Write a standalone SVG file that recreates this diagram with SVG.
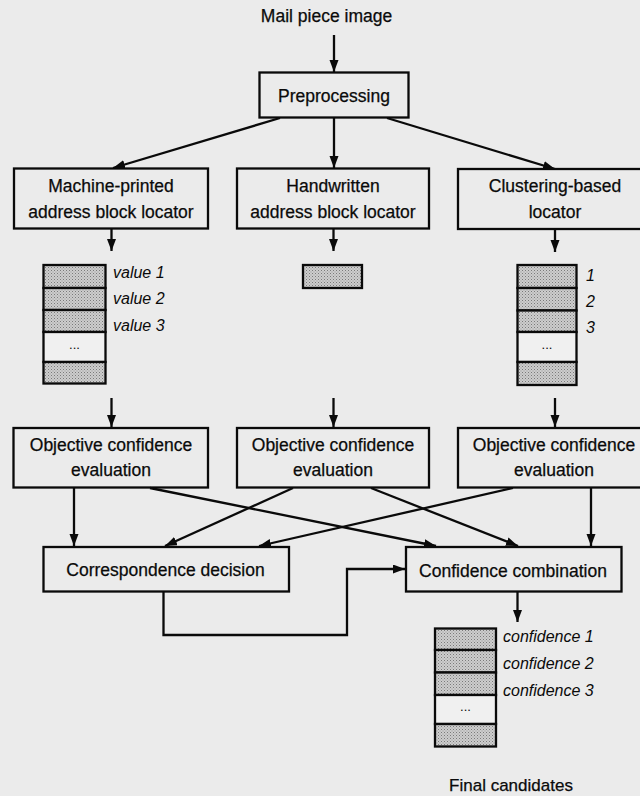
<svg xmlns="http://www.w3.org/2000/svg" width="640" height="796" viewBox="0 0 640 796">
<style>
.box{fill:none;stroke:#0a0a0a;stroke-width:2.3}
.cell{fill:url(#stip);stroke:#0a0a0a;stroke-width:2.3}
.wcell{fill:#f0f0f0;stroke:#0a0a0a;stroke-width:2.3}
.t{font-family:"Liberation Sans",Arial,sans-serif;font-size:17.5px;fill:#0a0a0a;stroke:#0a0a0a;stroke-width:0.25;text-anchor:middle}
.i{font-family:"Liberation Sans",Arial,sans-serif;font-size:16px;font-style:italic;fill:#0a0a0a}
.d{font-family:"Liberation Sans",Arial,sans-serif;font-size:13px;fill:#0a0a0a;text-anchor:middle}
.c{fill:none;stroke:#0a0a0a;stroke-width:2.3}
</style>
<defs>
<pattern id="stip" width="3" height="3" patternUnits="userSpaceOnUse">
<rect width="3" height="3" fill="#cdcdcd"/>
<rect width="1" height="1" fill="#7a7a7a"/>
<rect x="1.5" y="1.5" width="1" height="1" fill="#959595"/>
</pattern>
<marker id="ah" markerUnits="userSpaceOnUse" markerWidth="13" markerHeight="10" refX="12" refY="4.5" orient="auto">
<path d="M0,0 L12,4.5 L0,9 z" fill="#0a0a0a"/>
</marker>
</defs>
<rect width="640" height="796" fill="#ebebeb"/>

<g id="input"><text class="t" x="326.5" y="22">Mail piece image</text></g>

<g id="preprocessing"><rect class="box" x="259.5" y="72.5" width="149" height="45"/><text class="t" x="334" y="102">Preprocessing</text></g>

<g id="mp-locator"><rect class="box" x="14" y="168.5" width="194" height="60"/><text class="t" x="111" y="192">Machine-printed</text><text class="t" x="111" y="217.5">address block locator</text></g>
<g id="hw-locator"><rect class="box" x="237" y="168.5" width="192" height="60"/><text class="t" x="333" y="192">Handwritten</text><text class="t" x="333" y="217.5">address block locator</text></g>
<g id="cl-locator"><rect class="box" x="458" y="169" width="190" height="60"/><text class="t" x="555" y="192">Clustering-based</text><text class="t" x="555" y="217.5">locator</text></g>

<g id="mp-list">
<rect class="cell" x="43.5" y="265" width="62" height="23"/>
<rect class="cell" x="43.5" y="288" width="62" height="22"/>
<rect class="cell" x="43.5" y="310" width="62" height="22"/>
<rect class="wcell" x="43.5" y="332" width="62" height="30"/>
<rect class="cell" x="43.5" y="362" width="62" height="21.5"/>
<text class="d" x="74.5" y="349">...</text>
<text class="i" x="113" y="278">value 1</text>
<text class="i" x="113" y="304">value 2</text>
<text class="i" x="113" y="331">value 3</text>
</g>
<g id="hw-list"><rect class="cell" x="303" y="265" width="59" height="23"/></g>
<g id="cl-list">
<rect class="cell" x="517.5" y="265" width="59" height="23"/>
<rect class="cell" x="517.5" y="288" width="59" height="22.5"/>
<rect class="cell" x="517.5" y="310.5" width="59" height="21.5"/>
<rect class="wcell" x="517.5" y="332" width="59" height="30"/>
<rect class="cell" x="517.5" y="362" width="59" height="23"/>
<text class="d" x="547" y="349">...</text>
<text class="i" x="586" y="281">1</text>
<text class="i" x="586" y="307">2</text>
<text class="i" x="586" y="333">3</text>
</g>

<g id="eval-1"><rect class="box" x="13.5" y="428" width="194.5" height="59.5"/><text class="t" x="111" y="451">Objective confidence</text><text class="t" x="111" y="476">evaluation</text></g>
<g id="eval-2"><rect class="box" x="237" y="428" width="192" height="59.5"/><text class="t" x="333" y="451">Objective confidence</text><text class="t" x="333" y="476">evaluation</text></g>
<g id="eval-3"><rect class="box" x="458" y="428" width="190" height="59.5"/><text class="t" x="554" y="451">Objective confidence</text><text class="t" x="554" y="476">evaluation</text></g>

<g id="correspondence"><rect class="box" x="43.5" y="547" width="245.5" height="44.5"/><text class="t" x="165.5" y="576">Correspondence decision</text></g>
<g id="combination"><rect class="box" x="406" y="547" width="215.5" height="44.5"/><text class="t" x="513" y="576.5">Confidence combination</text></g>

<g id="final-list">
<rect class="cell" x="435" y="628.5" width="61" height="21.5"/>
<rect class="cell" x="435" y="650" width="61" height="22.5"/>
<rect class="cell" x="435" y="672.5" width="61" height="22.5"/>
<rect class="wcell" x="435" y="695" width="61" height="29"/>
<rect class="cell" x="435" y="724" width="61" height="22.5"/>
<text class="d" x="465.5" y="711">...</text>
<text class="i" x="503" y="642">confidence 1</text>
<text class="i" x="503" y="669">confidence 2</text>
<text class="i" x="503" y="696">confidence 3</text>
</g>
<g id="output"><text class="t" x="511" y="791" style="font-size:17px">Final candidates</text></g>

<g id="connectors">
<line class="c" x1="334" y1="35" x2="334" y2="72" marker-end="url(#ah)"/>
<line class="c" x1="280" y1="118" x2="113" y2="168" marker-end="url(#ah)"/>
<line class="c" x1="334" y1="118" x2="334" y2="168" marker-end="url(#ah)"/>
<line class="c" x1="387" y1="118" x2="555" y2="169" marker-end="url(#ah)"/>
<line class="c" x1="111.5" y1="229" x2="111.5" y2="251" marker-end="url(#ah)"/>
<line class="c" x1="333.5" y1="229" x2="333.5" y2="251" marker-end="url(#ah)"/>
<line class="c" x1="555" y1="229" x2="555" y2="252" marker-end="url(#ah)"/>
<line class="c" x1="111.5" y1="398" x2="111.5" y2="427" marker-end="url(#ah)"/>
<line class="c" x1="333.5" y1="398" x2="333.5" y2="427" marker-end="url(#ah)"/>
<line class="c" x1="555" y1="398" x2="555" y2="427" marker-end="url(#ah)"/>
<line class="c" x1="74" y1="488" x2="74" y2="546" marker-end="url(#ah)"/>
<line class="c" x1="150" y1="488" x2="436" y2="546" marker-end="url(#ah)"/>
<line class="c" x1="293" y1="488" x2="165" y2="546" marker-end="url(#ah)"/>
<line class="c" x1="371" y1="488" x2="518" y2="546" marker-end="url(#ah)"/>
<line class="c" x1="513" y1="488" x2="259" y2="546" marker-end="url(#ah)"/>
<line class="c" x1="591" y1="488" x2="591" y2="546" marker-end="url(#ah)"/>
<polyline class="c" points="163.5,592 163.5,635 347,635 347,569 405,569" marker-end="url(#ah)"/>
<line class="c" x1="517.5" y1="592" x2="517.5" y2="622" marker-end="url(#ah)"/>
</g>
</svg>
